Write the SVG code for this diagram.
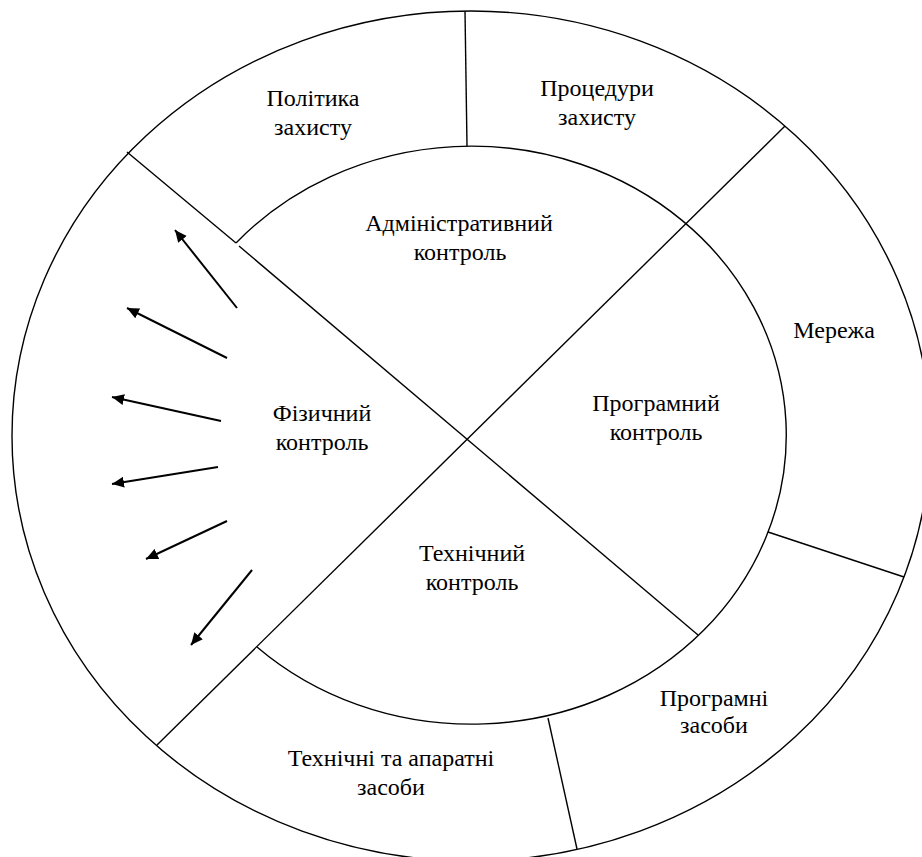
<svg xmlns="http://www.w3.org/2000/svg" width="922" height="857" viewBox="0 0 922 857">
  <style>
    .ln { fill: none; stroke: #000; stroke-width: 1.4; }
    .ar { fill: none; stroke: #000; stroke-width: 2; }
    .t { font-size: 24px; fill: #000; text-anchor: middle; }
  </style>
  <defs>
    <marker id="ah" markerUnits="userSpaceOnUse" markerWidth="13" markerHeight="12" refX="12" refY="6" orient="auto">
      <path d="M0,0.5 L12,6 L0,11.5 z" fill="#000"/>
    </marker>
  </defs>
  <rect width="922" height="857" fill="#fff"/>

  <g id="structure">
    <ellipse id="outer-ring" class="ln" cx="471" cy="436" rx="459" ry="425"/>
    <path id="inner-arc" class="ln" d="M236,243 A315,289 0 1 1 257,647"/>
  </g>

  <g id="connectors">
    <line class="ln" x1="465" y1="11" x2="467" y2="146"/>
    <line class="ln" x1="127" y1="152" x2="236" y2="243"/>
    <line class="ln" x1="239" y1="246" x2="698" y2="635"/>
    <line class="ln" x1="785" y1="126" x2="157" y2="745"/>
    <line class="ln" x1="768" y1="532" x2="904" y2="577"/>
    <line class="ln" x1="548" y1="718" x2="577" y2="849"/>
    <line class="ar" x1="237" y1="308" x2="175" y2="230" marker-end="url(#ah)"/>
    <line class="ar" x1="227" y1="358" x2="127" y2="308" marker-end="url(#ah)"/>
    <line class="ar" x1="221" y1="421" x2="112" y2="397" marker-end="url(#ah)"/>
    <line class="ar" x1="218" y1="467" x2="112" y2="484" marker-end="url(#ah)"/>
    <line class="ar" x1="227" y1="521" x2="146" y2="559" marker-end="url(#ah)"/>
    <line class="ar" x1="252" y1="570" x2="191" y2="645" marker-end="url(#ah)"/>
  </g>

  <g font-family="Liberation Serif, serif">
    <g id="node-policy"><text class="t" x="313" y="106">Політика</text><text class="t" x="313" y="135">захисту</text></g>
    <g id="node-procedures"><text class="t" x="597" y="96">Процедури</text><text class="t" x="597" y="125">захисту</text></g>
    <g id="node-admin"><text class="t" x="459" y="231">Адміністративний</text><text class="t" x="460" y="260">контроль</text></g>
    <g id="node-network"><text class="t" x="834" y="338">Мережа</text></g>
    <g id="node-software-control"><text class="t" x="656" y="411">Програмний</text><text class="t" x="656" y="440">контроль</text></g>
    <g id="node-physical"><text class="t" x="322" y="421">Фізичний</text><text class="t" x="322" y="450">контроль</text></g>
    <g id="node-technical"><text class="t" x="472" y="561">Технічний</text><text class="t" x="472" y="590">контроль</text></g>
    <g id="node-software"><text class="t" x="714" y="706">Програмні</text><text class="t" x="714" y="733">засоби</text></g>
    <g id="node-hardware"><text class="t" x="391" y="766">Технічні та апаратні</text><text class="t" x="391" y="795">засоби</text></g>
  </g>
</svg>
